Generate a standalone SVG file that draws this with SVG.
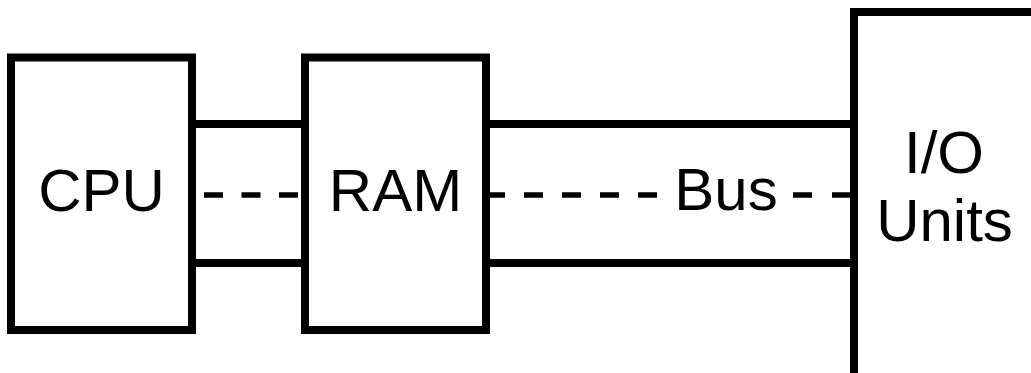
<svg xmlns="http://www.w3.org/2000/svg" width="1031" height="373" viewBox="0 0 1031 373">
<style>
.box{fill:#fff;stroke:#000;stroke-width:8}
.bus{stroke:#000;stroke-width:8;fill:none}
.dash{stroke:#000;stroke-width:5.5;fill:none}
.lbl{font-family:"Liberation Sans",Arial,sans-serif;font-size:60px;fill:#000;text-anchor:middle}
</style>
<rect width="1031" height="373" fill="#fff"/>
<g id="connectors">
<line class="bus" x1="192" y1="124" x2="305" y2="124"/>
<line class="bus" x1="192" y1="263" x2="305" y2="263"/>
<line class="dash" x1="204" y1="195" x2="298" y2="195" stroke-dasharray="19 18.5"/>
<line class="bus" x1="486" y1="124" x2="854" y2="124"/>
<line class="bus" x1="486" y1="263" x2="854" y2="263"/>
<line class="dash" x1="486" y1="195" x2="657" y2="195" stroke-dasharray="19 19"/>
<line class="dash" x1="793" y1="195" x2="851" y2="195" stroke-dasharray="19 20"/>
<text class="lbl" x="726" y="210">Bus</text>
</g>
<g id="cpu">
<rect class="box" x="11" y="57.5" width="181" height="272.5"/>
<text class="lbl" x="101.5" y="211">CPU</text>
</g>
<g id="ram">
<rect class="box" x="305" y="57.5" width="181" height="272.5"/>
<text class="lbl" x="395.5" y="211">RAM</text>
</g>
<g id="io">
<rect class="box" x="854" y="12" width="200" height="380"/>
<text class="lbl" x="944" y="173">I/O</text>
<text class="lbl" x="944.5" y="241">Units</text>
</g>
</svg>
